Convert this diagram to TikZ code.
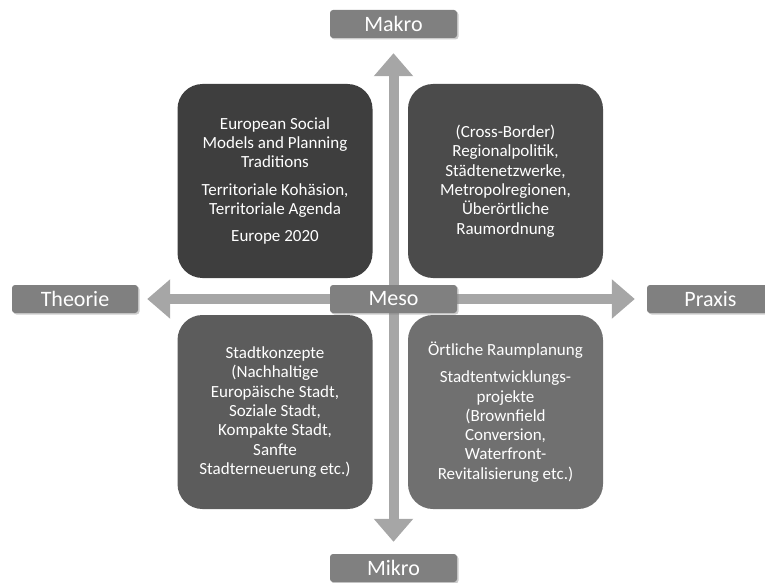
\documentclass[tikz,border=0pt]{standalone}
\usepackage{fontspec}
\setmainfont{Carlito}
\usetikzlibrary{arrows.meta,shadows,backgrounds}

\definecolor{AxisGray}{HTML}{A6A6A6}
\definecolor{LabelGray}{HTML}{808080}
\definecolor{FieldA}{HTML}{3E3E3E}
\definecolor{FieldB}{HTML}{4B4B4B}
\definecolor{FieldC}{HTML}{5C5C5C}
\definecolor{FieldD}{HTML}{707070}

\begin{document}
\begin{tikzpicture}[x=1pt,y=-1pt]
          \useasboundingbox (0,0) rectangle (765,583);
          \tikzset{LabelStyle/.style = {
              shape = rectangle,
              rounded corners = 3pt,
              fill = LabelGray,
              text = white,
              inner sep = 0pt,
              minimum width = 127pt,
              minimum height = 28pt,
              font = \fontsize{22}{24}\selectfont,
              drop shadow = {opacity=.4, shadow xshift=1.5pt, shadow yshift=-1.5pt}}}
          \tikzset{FieldStyle/.style = {
              shape = rectangle,
              rounded corners = 25pt,
              text = white,
              align = center,
              inner sep = 0pt,
              minimum width = 195pt,
              minimum height = 194pt,
              font = \fontsize{17}{19.3}\selectfont}}
          \tikzset{AxisStyle/.style = {
              draw = AxisGray,
              line width = 10pt,
              -{Triangle[length=23pt,width=38pt]}}}
          %% axis labels
          \node[LabelStyle] (makro) at (393.5,24) {Makro};
          \node[LabelStyle] (meso) at (393.5,299) {Meso};
          \node[LabelStyle] (mikro) at (393.5,568) {Mikro};
          \node[LabelStyle,minimum width=126pt] (theorie) at (75,299) {Theorie};
          \node[LabelStyle] (praxis) at (710.5,299) {Praxis};
          %% quadrants
          \node[FieldStyle,fill=FieldA] (makrotheorie) at (275,181)
            {European Social\\Models and Planning\\Traditions\\[8pt]
             Territoriale Kohäsion,\\Territoriale Agenda\\[8pt]Europe 2020};
          \node[FieldStyle,fill=FieldB] (makropraxis) at (505.5,181)
            {(Cross-Border)\\Regionalpolitik,\\Städtenetzwerke,\\
             Metropolregionen,\\Überörtliche\\Raumordnung};
          \node[FieldStyle,fill=FieldC] (mikrotheorie) at (275,412)
            {Stadtkonzepte\\(Nachhaltige\\Europäische Stadt,\\Soziale Stadt,\\
             Kompakte Stadt,\\Sanfte\\Stadterneuerung etc.)};
          \node[FieldStyle,fill=FieldD] (mikropraxis) at (505.5,412)
            {Örtliche Raumplanung\\[8pt]Stadtentwicklungs-\\projekte\\(Brownfield\\
             Conversion,\\Waterfront-\\Revitalisierung etc.)};
          %% axes
          \begin{scope}[on background layer]
            \draw[AxisStyle,shorten >=9pt] (meso.center) -- (theorie.east);
            \draw[AxisStyle,shorten >=12pt] (meso.center) -- (praxis.west);
            \draw[AxisStyle,shorten >=15pt] (meso.center) -- (makro.south);
            \draw[AxisStyle,shorten >=12pt] (meso.center) -- (mikro.north);
          \end{scope}
        \end{tikzpicture}
\end{document}
